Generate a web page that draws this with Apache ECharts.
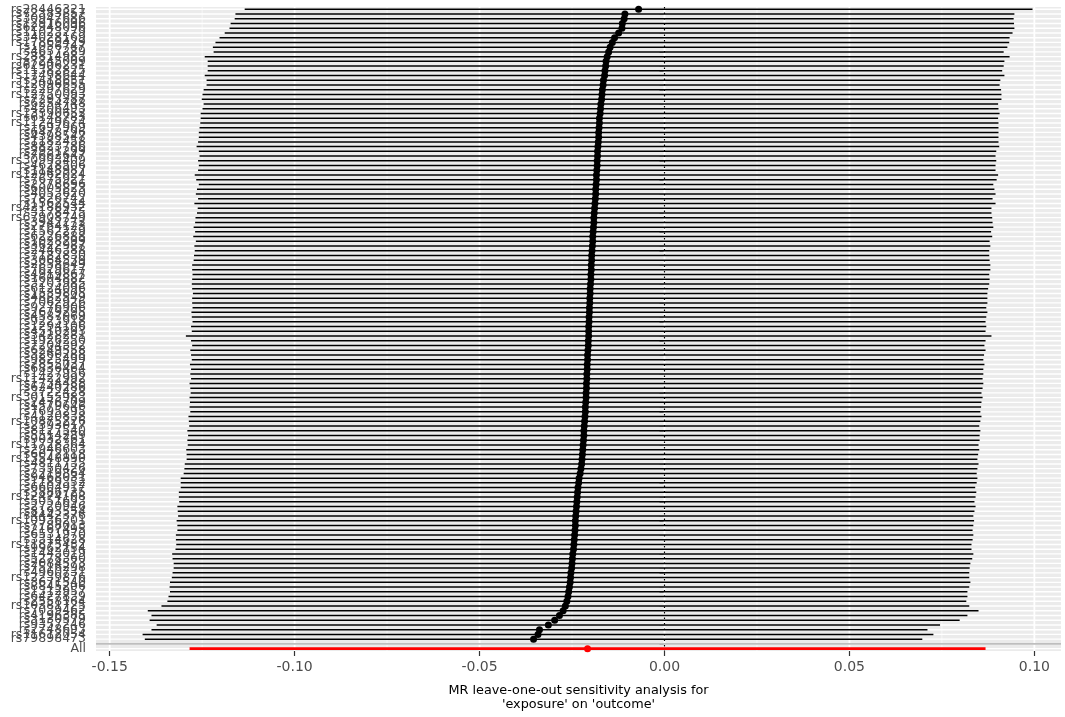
<!DOCTYPE html>
<html><head><meta charset="utf-8">
<script src="https://cdn.jsdelivr.net/npm/echarts@6/dist/echarts.min.js"></script>
<style>html,body{margin:0;padding:0;background:#fff}#c{width:1065px;height:717px}</style>
</head><body><div id="c"></div>
<script>
// SNPs listed top to bottom as in the picture
const snps = ["rs28446321","rs72383857","rs30947686","rs12916096","rs62948096","rs11023279","rs34028169","rs17869429","rs1056747","rs4657289",
"rs28814983","rs7245009","rs62906231","rs11382825","rs17498644","rs3418651","rs12096655","rs2297629","rs12750093","rs7293287",
"rs6254748","rs4206493","rs13390652","rs6148783","rs11249674","rs1697969","rs6478796","rs4398547","rs1182458","rs8823786",
"rs2931299","rs7662647","rs30993409","rs4628506","rs1148987","rs12962024","rs7675921","rs2378696","rs6005823","rs4053620",
"rs7826742","rs1562544","rs42188932","rs3178475","rs67908749","rs3942272","rs2764123","rs1562279","rs6226888","rs1028299",
"rs3622987","rs2446388","rs7182830","rs3064539","rs2858649","rs7629617","rs4919867","rs1604882","rs3203985","rs6124096",
"rs1539805","rs4882549","rs7062926","rs9276906","rs2679295","rs4587069","rs9223918","rs1294106","rs4510293","rs3428281",
"rs1926250","rs7204392","rs6249558","rs3260288","rs9825499","rs2855037","rs6836464","rs1427956","rs11422992","rs1734488",
"rs6240286","rs3722428","rs30155983","rs2476709","rs1579646","rs7695295","rs4120838","rs10875226","rs2393017","rs8127540",
"rs5514289","rs9032761","rs11728364","rs2946603","rs6072118","rs13548890","rs4811735","rs7350426","rs2219864","rs9468031",
"rs1189352","rs6604917","rs3886725","rs12474108","rs5051693","rs2720946","rs8193554","rs4442376","rs10936201","rs7788013",
"rs2167495","rs6531970","rs3314628","rs11875432","rs9962154","rs1443019","rs5278360","rs2084573","rs7516298","rs4960731",
"rs12239876","rs3671540","rs8845206","rs1312957","rs6427839","rs2558164","rs10381725","rs7039462","rs4196385","rs3130579",
"rs9357246","rs2748693","rs11612054","rs79898473"];

// leave-one-out estimates (same order as snps)
const b = [-0.0070,-0.0107,-0.0109,-0.0114,-0.0115,-0.0124,-0.0135,-0.0141,-0.0147,-0.0151,
-0.0155,-0.0158,-0.0159,-0.0161,-0.0162,-0.0165,-0.0166,-0.0168,-0.0169,-0.0170,
-0.0172,-0.0173,-0.0174,-0.0176,-0.0176,-0.0177,-0.0178,-0.0178,-0.0179,-0.0180,
-0.0181,-0.0181,-0.0182,-0.0182,-0.0183,-0.0184,-0.0184,-0.0185,-0.0186,-0.0186,
-0.0187,-0.0188,-0.0189,-0.0190,-0.0191,-0.0191,-0.0192,-0.0193,-0.0194,-0.0194,
-0.0195,-0.0196,-0.0197,-0.0197,-0.0198,-0.0198,-0.0199,-0.0199,-0.0200,-0.0201,
-0.0201,-0.0202,-0.0202,-0.0203,-0.0203,-0.0204,-0.0204,-0.0205,-0.0205,-0.0205,
-0.0206,-0.0206,-0.0207,-0.0208,-0.0208,-0.0209,-0.0209,-0.0210,-0.0210,-0.0211,
-0.0211,-0.0212,-0.0212,-0.0213,-0.0214,-0.0214,-0.0215,-0.0216,-0.0217,-0.0218,
-0.0218,-0.0219,-0.0220,-0.0221,-0.0222,-0.0223,-0.0224,-0.0226,-0.0228,-0.0231,
-0.0232,-0.0234,-0.0235,-0.0236,-0.0237,-0.0238,-0.0239,-0.0240,-0.0241,-0.0241,
-0.0242,-0.0243,-0.0244,-0.0245,-0.0246,-0.0248,-0.0249,-0.0250,-0.0251,-0.0253,
-0.0254,-0.0255,-0.0257,-0.0259,-0.0261,-0.0264,-0.0268,-0.0274,-0.0284,-0.0297,
-0.0314,-0.0338,-0.0342,-0.0354];

// half width of the 95% interval (1.96 * se)
const halfCI = [0.1065,0.1053,0.1053,0.1059,0.1061,0.1065,0.1068,0.1073,0.1074,0.1068,
0.1088,0.1077,0.1076,0.1074,0.1081,0.1073,0.1072,0.1078,0.1080,0.1081,
0.1074,0.1076,0.1080,0.1078,0.1079,0.1080,0.1081,0.1081,0.1082,0.1085,
0.1078,0.1076,0.1079,0.1077,0.1078,0.1086,0.1082,0.1074,0.1078,0.1081,
0.1074,0.1083,0.1073,0.1074,0.1077,0.1078,0.1081,0.1076,0.1080,0.1073,
0.1076,0.1074,0.1075,0.1076,0.1079,0.1079,0.1077,0.1078,0.1078,0.1076,
0.1074,0.1075,0.1075,0.1073,0.1076,0.1074,0.1072,0.1075,0.1073,0.1089,
0.1074,0.1071,0.1075,0.1072,0.1070,0.1074,0.1071,0.1072,0.1070,0.1073,
0.1071,0.1069,0.1072,0.1070,0.1070,0.1068,0.1072,0.1070,0.1068,0.1072,
0.1070,0.1071,0.1069,0.1072,0.1070,0.1069,0.1073,0.1072,0.1072,0.1077,
0.1076,0.1074,0.1078,0.1077,0.1075,0.1079,0.1077,0.1075,0.1078,0.1076,
0.1075,0.1078,0.1077,0.1075,0.1076,0.1083,0.1081,0.1077,0.1076,0.1077,
0.1078,0.1082,0.1081,0.1078,0.1080,0.1080,0.1092,0.1123,0.1103,0.1095,
0.1059,0.1049,0.1069,0.1051];

const allLabel = "All";
const allEstimate = -0.0208;
const allHalfCI = 0.1076;

const majorTicks = [-0.15, -0.10, -0.05, 0.00, 0.05, 0.10];
const minorTicks = [-0.125, -0.075, -0.025, 0.025, 0.075];
const xMin = -0.1537, xMax = 0.1072;
const xTitle = "MR leave-one-out sensitivity analysis for\n'exposure' on 'outcome'";

// ---- build
const n = snps.length;
const categories = [allLabel, ""].concat(snps.slice().reverse());
const barData = [], pointData = [];
for (let i = 0; i < n; i++) {
  const idx = n - 1 - i + 2;
  barData.push([b[i] - halfCI[i], b[i] + halfCI[i], idx]);
  pointData.push([b[i], idx]);
}
const allBar = [[allEstimate - allHalfCI, allEstimate + allHalfCI, 0]];
const allPoint = [[allEstimate, 0]];

function hLine(color, width) {
  return function (params, api) {
    const cs = params.coordSys;
    const y = api.coord([api.value(0), api.value(1)])[1];
    return {type: 'line', shape: {x1: cs.x, y1: y, x2: cs.x + cs.width, y2: y},
      style: {stroke: color, lineWidth: width}};
  };
}
function vLine(color, width, dash) {
  return function (params, api) {
    const cs = params.coordSys;
    const x = api.coord([api.value(0), 0])[0];
    return {type: 'line', shape: {x1: x, y1: cs.y, x2: x, y2: cs.y + cs.height},
      style: {stroke: color, lineWidth: width, lineDash: dash || null}};
  };
}
function bar(color, width) {
  return function (params, api) {
    const y = api.value(2);
    const p1 = api.coord([api.value(0), y]);
    const p2 = api.coord([api.value(1), y]);
    return {type: 'line', shape: {x1: p1[0], y1: p1[1], x2: p2[0], y2: p2[1]},
      style: {stroke: color, lineWidth: width}};
  };
}

const chart = echarts.init(document.getElementById('c'), null, {renderer: 'canvas'});
chart.setOption({
  animation: false,
  backgroundColor: '#ffffff',
  grid: {left: 96, right: 4, top: 6.9, height: 646.2, show: true, backgroundColor: '#EBEBEB', borderWidth: 0, containLabel: false},
  xAxis: {
    type: 'value', min: xMin, max: xMax,
    splitLine: {show: false}, axisLine: {show: false},
    axisTick: {show: true, length: 5, customValues: majorTicks, lineStyle: {color: '#333333', width: 1.2}},
    axisLabel: {customValues: majorTicks, formatter: v => v.toFixed(2), color: '#4D4D4D',
      fontFamily: 'DejaVu Sans', fontSize: 14, margin: 9},
    name: xTitle, nameLocation: 'middle', nameGap: 32,
    nameTextStyle: {color: '#000', fontFamily: 'DejaVu Sans', fontSize: 12.8, lineHeight: 14.5}
  },
  yAxis: {
    type: 'category', data: categories, boundaryGap: true,
    axisLine: {show: false}, splitLine: {show: false},
    axisTick: {show: true, alignWithLabel: true, interval: 0, length: 5, lineStyle: {color: '#333333', width: 1}},
    axisLabel: {interval: 0, color: '#4D4D4D', fontFamily: 'DejaVu Sans', fontSize: 12.5, margin: 10}
  },
  series: [
    {type: 'custom', z: 1, silent: true, renderItem: vLine('#F7F7F7', 1, null), data: minorTicks.map(v => [v, 0]), encode: {x: 0, y: 1}},
    {type: 'custom', z: 1, silent: true, renderItem: vLine('#FFFFFF', 1.8, null), data: majorTicks.map(v => [v, 0]), encode: {x: 0, y: 1}},
    {type: 'custom', z: 1, silent: true, renderItem: hLine('#FFFFFF', 1.4), data: categories.map((c, i) => [xMin, i]), encode: {x: 0, y: 1}},
    {type: 'custom', z: 2, silent: true, renderItem: vLine('#000000', 1.2, [1.5, 4]), data: [[0, 0]], encode: {x: 0, y: 1}},
    {type: 'custom', z: 2, silent: true, renderItem: hLine('#BEBEBE', 1.8), data: [[xMin, 1]], encode: {x: 0, y: 1}},
    {type: 'custom', z: 3, silent: true, renderItem: bar('#000000', 1.5), data: barData, encode: {x: [0, 1], y: 2}},
    {type: 'custom', z: 3, silent: true, renderItem: bar('#FF0000', 2.8), data: allBar, encode: {x: [0, 1], y: 2}},
    {type: 'scatter', z: 4, silent: true, symbol: 'circle', symbolSize: 7, itemStyle: {color: '#000000', opacity: 1}, data: pointData},
    {type: 'scatter', z: 4, silent: true, symbol: 'circle', symbolSize: 7, itemStyle: {color: '#FF0000', opacity: 1}, data: allPoint}
  ]
});
</script>
</body></html>
